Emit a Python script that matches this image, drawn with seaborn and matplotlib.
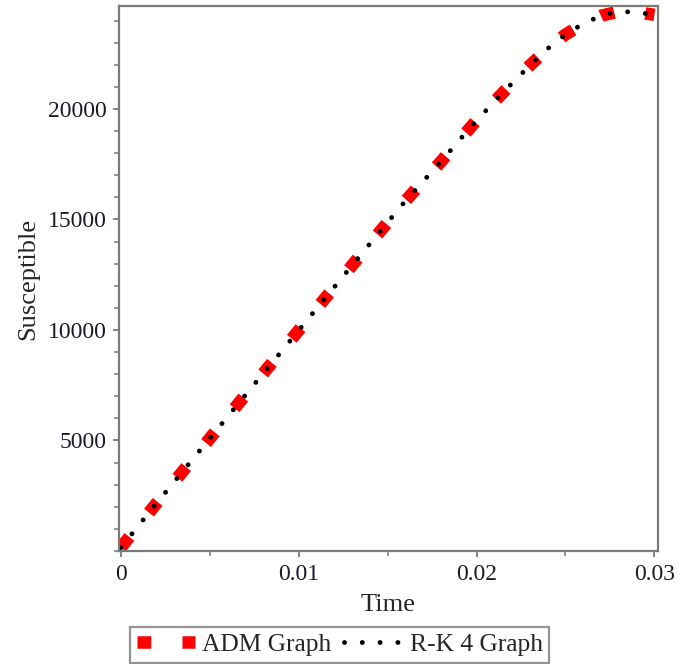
import numpy as np
import pandas as pd
import matplotlib
matplotlib.use('Agg')
import matplotlib.pyplot as plt
from matplotlib.ticker import MultipleLocator, FixedLocator
import seaborn as sns

# values
time = [0.000, 0.001, 0.002, 0.003, 0.004, 0.005, 0.006, 0.007, 0.008, 0.009,
        0.010, 0.011, 0.012, 0.013, 0.014, 0.015, 0.016, 0.017, 0.018, 0.019,
        0.020, 0.021, 0.022, 0.023, 0.024, 0.025, 0.026, 0.027, 0.028, 0.029, 0.030]
adm = [150, 1150, 2150, 3130, 4110, 5090, 6070, 7050, 8030, 9000,
       9980, 10960, 11940, 12920, 13900, 14870, 15840, 16730, 17620, 18560,
       19480, 20330, 21170, 21970, 22730, 23370, 23860, 24220, 24410, 24380, 24260]
rk4 = [150, 1150, 2150, 3130, 4110, 5090, 6070, 7050, 8030, 9000,
       9980, 10960, 11940, 12920, 13900, 14870, 15840, 16730, 17620, 18560,
       19480, 20330, 21170, 21970, 22730, 23370, 23860, 24220, 24410, 24380, 24260]
x_ticks = [0, 0.01, 0.02, 0.03]
x_labels = ['0', '0.01', '0.02', '0.03']
y_ticks = [5000, 10000, 15000, 20000]

df = pd.DataFrame({'Time': time, 'ADM': adm, 'RK4': rk4})

sns.set_style('white')
plt.rcParams['font.family'] = ['Liberation Serif', 'DejaVu Serif']

fig = plt.figure(figsize=(6.77, 6.64), dpi=100)
ax = fig.add_axes([119 / 677, 1 - 551 / 664, (658 - 119) / 677, (551 - 6) / 664])

sns.lineplot(data=df, x='Time', y='ADM', ax=ax, color='red', lw=9,
             linestyle=(0, (1.1, 2.5)), dash_capstyle='butt', label='ADM Graph')
sns.lineplot(data=df, x='Time', y='RK4', ax=ax, color='black', lw=3.5,
             linestyle=(0, (0.01, 3.65)), dash_capstyle='round', label='R-K 4 Graph')

ax.set_xlim(-0.0001, 0.0302)
ax.set_ylim(0, 24660)
ax.xaxis.set_major_locator(FixedLocator(x_ticks))
ax.set_xticklabels(x_labels)
ax.xaxis.set_minor_locator(MultipleLocator(0.005))
ax.yaxis.set_major_locator(FixedLocator(y_ticks))
ax.yaxis.set_minor_locator(MultipleLocator(1000))

gray = '#7a7a7a'
for s in ax.spines.values():
    s.set_color(gray)
    s.set_linewidth(1.6)
ax.tick_params(which='both', direction='out', color=gray, labelsize=17, labelcolor='#1a1a2a')
ax.tick_params(which='major', length=4, width=1.3, pad=5)
ax.tick_params(which='minor', length=3.5, width=1.1)
ax.tick_params(axis='x', which='both', bottom=True)
ax.tick_params(axis='y', which='both', left=True)

ax.set_xlabel('Time', fontsize=19, labelpad=7)
ax.set_ylabel('Susceptible', fontsize=19, labelpad=6)

handles, labels = ax.get_legend_handles_labels()
ax.get_legend().remove()
leg = fig.legend(handles, labels, loc='lower center', bbox_to_anchor=(0.502, 0.002),
                 ncol=2, fontsize=18.4, frameon=True, fancybox=False,
                 handlelength=2.27, handletextpad=0.3, columnspacing=0.5,
                 borderpad=0.25, borderaxespad=0.0)
leg.get_frame().set_edgecolor(gray)
leg.get_frame().set_linewidth(1.6)

fig.savefig('out.png', dpi=100)
